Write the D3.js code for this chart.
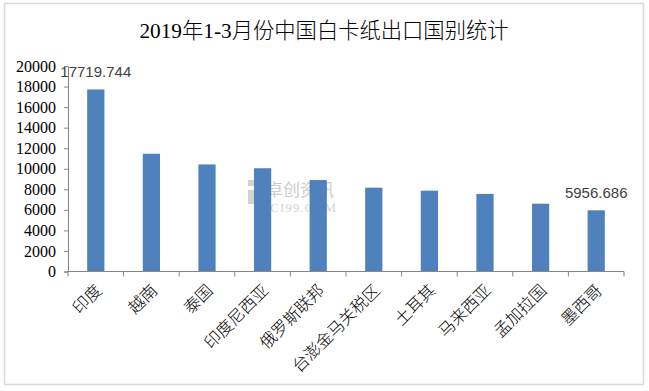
<!DOCTYPE html>
<html><head><meta charset="utf-8">
<script src="https://cdn.jsdelivr.net/npm/d3@7"></script>
<style>body{margin:0;background:#fff;}svg{display:block;}</style>
</head><body>
<script>
const title = "2019年1-3月份中国白卡纸出口国别统计";
const categories = ["印度","越南","泰国","印度尼西亚","俄罗斯联邦","台澎金马关税区","土耳其","马来西亚","孟加拉国","墨西哥"];
const values = [17719.744, 11460, 10420, 10050, 8900, 8160, 7870, 7550, 6600, 5956.686];
const labelled = ["17719.744", null, null, null, null, null, null, null, null, "5956.686"];
const yTicks = [0,2000,4000,6000,8000,10000,12000,14000,16000,18000,20000];

const W = 649, H = 391;
const svg = d3.select("body").append("svg").attr("width", W).attr("height", H);

svg.append("rect").attr("x", 4.5).attr("y", 3.5).attr("width", 639).attr("height", 381)
  .attr("fill", "#fff").attr("stroke", "#d9d9d9").attr("stroke-width", 1.5);

svg.append("text").attr("x", 324).attr("y", 38).attr("text-anchor", "middle")
  .attr("font-family", "'Liberation Serif','Noto Sans CJK SC',serif").attr("font-size", 21.3)
  .attr("font-weight", 300)
  .attr("fill", "#000").text(title);

const x = d3.scaleBand().domain(categories).range([68, 624]).paddingInner(0.69).paddingOuter(0.345);
const y = d3.scaleLinear().domain([0, 20000]).range([271.5, 66]);

// watermark
const wm = svg.append("g").attr("opacity", 0.55);
wm.append("rect").attr("x", 248).attr("y", 180).attr("width", 6).attr("height", 6).attr("fill", "#b0b0b0");
wm.append("rect").attr("x", 248).attr("y", 190).attr("width", 14).attr("height", 14).attr("fill", "#b0b0b0");
wm.append("text").attr("x", 266).attr("y", 196).attr("font-family", "'Noto Sans CJK SC'").attr("font-size", 17)
  .attr("fill", "#a8a8a8").text("卓创资讯");
wm.append("text").attr("x", 262).attr("y", 212).attr("font-family", "'Liberation Serif'").attr("font-size", 13)
  .attr("fill", "#b0b0b0").attr("letter-spacing", 1).text("SCI99.COM");

// bars
svg.append("g").selectAll("rect").data(values).join("rect")
  .attr("x", (d,i) => x(categories[i]))
  .attr("width", x.bandwidth())
  .attr("y", d => y(d))
  .attr("height", d => y(0) - y(d))
  .attr("fill", "#4f81bd");

// y axis
const yAxis = svg.append("g").attr("transform", "translate(68,0)")
  .call(d3.axisLeft(y).tickValues(yTicks).tickSize(4).tickPadding(8).tickFormat(d3.format("d")));
yAxis.selectAll("path,line").attr("stroke", "#868686");
yAxis.selectAll("text").attr("font-family", "'Liberation Serif',serif").attr("font-size", 16).attr("fill", "#000");

// x axis
const xb = d3.scaleLinear().domain([0, categories.length]).range([68, 624]);
const xAxis = svg.append("g").attr("transform", "translate(0,271.5)");
xAxis.append("line").attr("x1", 68).attr("x2", 624).attr("stroke", "#868686");
xAxis.selectAll("line.t").data(d3.range(categories.length + 1)).join("line").attr("class", "t")
  .attr("x1", d => xb(d)).attr("x2", d => xb(d)).attr("y1", 0).attr("y2", 5).attr("stroke", "#868686");
xAxis.selectAll("text").data(categories).join("text")
  .attr("transform", d => `translate(${x(d) + x.bandwidth()/2 + 7},${20}) rotate(-45)`)
  .attr("text-anchor", "end")
  .attr("font-family", "'Noto Sans CJK SC',serif").attr("font-size", 16.5).attr("font-weight", 300)
  .attr("fill", "#000")
  .text(d => d);

// data labels
svg.append("g").selectAll("text").data(values).join("text")
  .filter((d,i) => labelled[i])
  .attr("x", (d,i) => x(categories[values.indexOf(d)]) + x.bandwidth()/2)
  .attr("y", d => y(d) - 12.5)
  .attr("text-anchor", "middle")
  .attr("font-family", "'Liberation Sans',Arial,sans-serif").attr("font-size", 15).attr("fill", "#404040")
  .text(d => labelled[values.indexOf(d)]);
</script>
</body></html>
